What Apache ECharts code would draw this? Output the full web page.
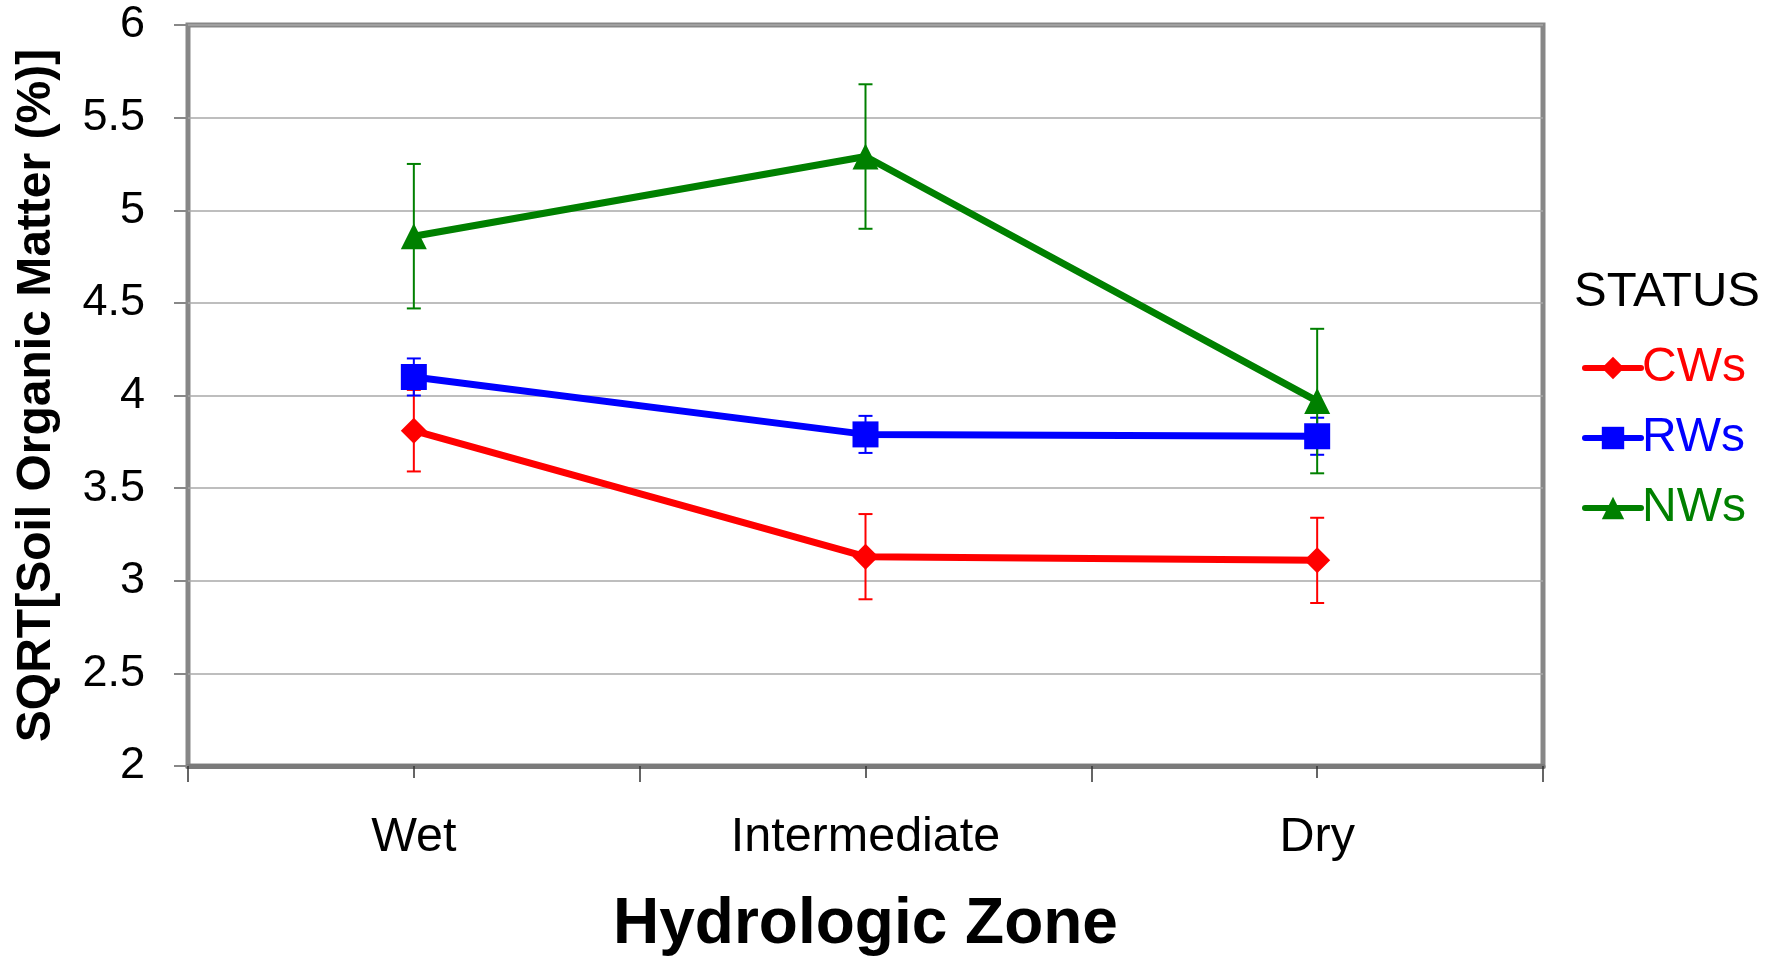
<!DOCTYPE html>
<html>
<head>
<meta charset="utf-8">
<script src="https://cdn.jsdelivr.net/npm/echarts@6/dist/echarts.min.js"></script>
<style>
html,body{margin:0;padding:0;background:#fff;}
#chart{width:1779px;height:958px;}
</style>
</head>
<body>
<div id="chart"></div>
<script>
const categories = ['Wet', 'Intermediate', 'Dry'];
const seriesNames = ['CWs', 'RWs', 'NWs'];
const cwsMean = [3.81, 3.13, 3.11];
const cwsErr = [0.22, 0.23, 0.23];
const rwsMean = [4.10, 3.79, 3.78];
const rwsErr = [0.10, 0.10, 0.10];
const nwsMean = [4.86, 5.29, 3.97];
const nwsErr = [0.39, 0.39, 0.39];
const yTicks = ['2', '2.5', '3', '3.5', '4', '4.5', '5', '5.5', '6'];

const colors = {CWs: '#ff0000', RWs: '#0000ff', NWs: '#008000'};
const FONT = '"Liberation Sans", Arial, sans-serif';

function errData(means, errs) {
  return means.map((m, i) => [i, m, errs[i]]);
}
function errSeries(name, means, errs) {
  return {
    type: 'custom',
    name: name + ' err',
    z: 2,
    silent: true,
    data: errData(means, errs),
    encode: {x: 0, y: 1},
    renderItem: function (params, api) {
      const i = api.value(0), v = api.value(1), e = api.value(2);
      const top = api.coord([i, v + e]);
      const bot = api.coord([i, v - e]);
      const c = colors[name];
      const hw = 7;
      const st = {stroke: c, lineWidth: 2};
      return {
        type: 'group',
        children: [
          {type: 'line', shape: {x1: top[0], y1: top[1], x2: bot[0], y2: bot[1]}, style: st},
          {type: 'line', shape: {x1: top[0] - hw, y1: top[1], x2: top[0] + hw, y2: top[1]}, style: st},
          {type: 'line', shape: {x1: bot[0] - hw, y1: bot[1], x2: bot[0] + hw, y2: bot[1]}, style: st}
        ]
      };
    }
  };
}
function lineSeries(name, means, symbol) {
  return {
    type: 'line',
    name: name,
    z: 3,
    data: means,
    symbol: symbol,
    symbolSize: 26,
    color: colors[name],
    lineStyle: {width: 7, color: colors[name]},
    itemStyle: {color: colors[name]},
    emphasis: {disabled: true}
  };
}

const chart = echarts.init(document.getElementById('chart'), null, {renderer: 'canvas'});
chart.setOption({
  animation: false,
  backgroundColor: '#ffffff',
  textStyle: {fontFamily: FONT},
  title: {
    text: 'STATUS',
    left: 1574,
    top: 268,
    padding: 0,
    textStyle: {fontFamily: FONT, fontSize: 49, fontWeight: 'normal', color: '#000'}
  },
  legend: {
    orient: 'vertical',
    left: 1582,
    top: 344,
    itemWidth: 56,
    itemHeight: 28,
    itemGap: 22,
    padding: 0,
    lineStyle: {width: 6, cap: 'round'},
    data: seriesNames.map(n => ({name: n, textStyle: {color: colors[n]}})),
    textStyle: {fontFamily: FONT, fontSize: 48, padding: [0, 0, 0, -4]}
  },
  grid: {
    left: 188, top: 25, right: 236, bottom: 192,
    outerBoundsMode: 'none',
    containLabel: false,
    show: true, borderColor: '#878787', borderWidth: 5, backgroundColor: '#fff'
  },
  xAxis: [{
    type: 'category',
    data: categories,
    boundaryGap: true,
    position: 'bottom',
    axisLine: {show: true, onZero: false, lineStyle: {color: '#7a7a7a', width: 5}},
    axisTick: {show: true, length: 16, lineStyle: {color: '#333', width: 1.5}},
    axisLabel: {fontFamily: FONT, fontSize: 48.5, color: '#000', margin: 47},
    name: 'Hydrologic Zone',
    nameLocation: 'middle',
    nameGap: 127,
    nameTextStyle: {fontFamily: FONT, fontSize: 64, fontWeight: 'bold', color: '#000'}
  }, {
    type: 'category',
    data: categories,
    boundaryGap: true,
    position: 'bottom',
    axisLine: {show: false, onZero: false},
    axisTick: {show: true, alignWithLabel: true, length: 12, lineStyle: {color: '#333', width: 1.5}},
    axisLabel: {show: false}
  }],
  yAxis: {
    type: 'value',
    min: 2, max: 6, interval: 0.5,
    axisLine: {show: false},
    axisTick: {show: true, length: 14, lineStyle: {color: '#888', width: 2}},
    splitLine: {show: true, lineStyle: {color: '#a8a8a8', width: 1.5}},
    axisLabel: {
      fontFamily: FONT, fontSize: 45, color: '#000', margin: 43,
      formatter: function (v) { const s = String(v); return yTicks.indexOf(s) >= 0 ? s : ''; }
    },
    name: 'SQRT[Soil Organic Matter (%)]',
    nameLocation: 'middle',
    nameGap: 127,
    nameTextStyle: {fontFamily: FONT, fontSize: 48, fontWeight: 'bold', color: '#000'}
  },
  series: [
    errSeries('CWs', cwsMean, cwsErr),
    errSeries('RWs', rwsMean, rwsErr),
    errSeries('NWs', nwsMean, nwsErr),
    lineSeries('CWs', cwsMean, 'diamond'),
    lineSeries('RWs', rwsMean, 'rect'),
    lineSeries('NWs', nwsMean, 'triangle')
  ]
});
</script>
</body>
</html>
